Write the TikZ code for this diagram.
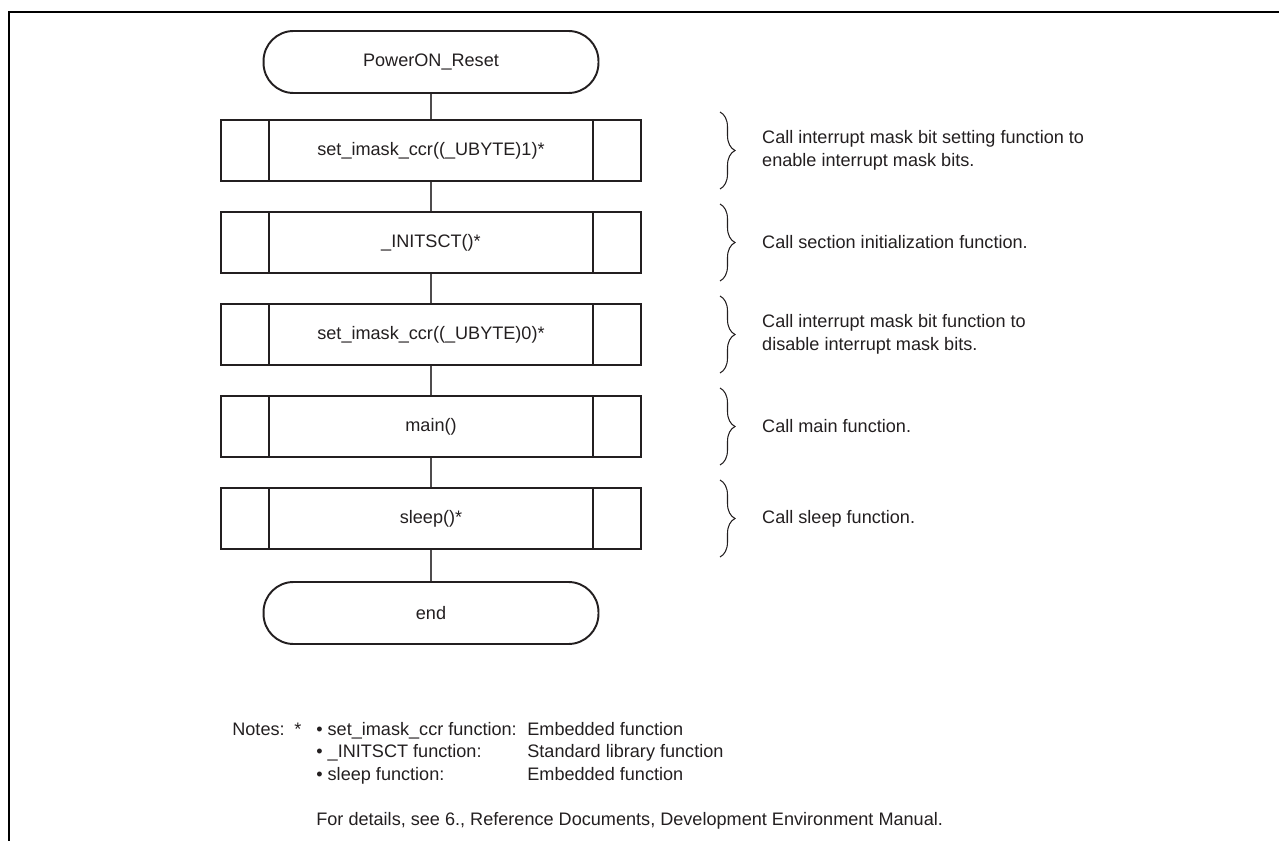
\documentclass[tikz,border=0pt]{standalone}
\usepackage{fontspec}
\setmainfont{Liberation Sans}
\usetikzlibrary{positioning,decorations.pathreplacing}
\definecolor{tinta}{HTML}{231F20}
\begin{document}
\begin{tikzpicture}[
    x=0.02cm,
    y=-0.02cm,
    font=\fontsize{10.3}{13}\selectfont,
    text=tinta,
    terminal/.style={draw=tinta,line width=1.1pt,rounded corners=0.6cm,
        minimum width=6.7cm,minimum height=1.24cm},
    subrutina/.style={draw=tinta,line width=1.1pt,
        minimum width=8.4cm,minimum height=1.22cm},
    enlace/.style={draw=tinta!80,line width=0.6pt},
    llave/.style={draw=tinta,line width=0.6pt,
        decorate,decoration={brace,amplitude=0.3cm}},
    nota/.style={anchor=west,inner sep=0pt,text height=1.5ex,text depth=.3ex},
    marco/.style={line width=1.5pt,black}
]
    \useasboundingbox (0,0) rectangle (1279,841);
    \draw[marco] (9,841) -- (9,12) -- (1279,12);

    % Diagrama de flujo
    \node[terminal] (inicio) at (431,62) {PowerON\_Reset};
    \node[subrutina] (b1) at (431,150.5) {set\_imask\_ccr((\_UBYTE)1)*};
    \node[subrutina] (b2) at (431,242.5) {\_INITSCT()*};
    \node[subrutina] (b3) at (431,334.5) {set\_imask\_ccr((\_UBYTE)0)*};
    \node[subrutina] (b4) at (431,426.5) {main()};
    \node[subrutina] (b5) at (431,518.5) {sleep()*};
    \node[terminal] (fin) at (431,613) {end};
    \foreach \n in {b1,b2,b3,b4,b5}{
        \draw[line width=1.1pt,tinta] ([xshift=0.98cm]\n.north west) -- ([xshift=0.98cm]\n.south west);
        \draw[line width=1.1pt,tinta] ([xshift=-0.98cm]\n.north east) -- ([xshift=-0.98cm]\n.south east);
    }
    \draw[enlace] (inicio) -- (b1);
    \draw[enlace] (b1) -- (b2);
    \draw[enlace] (b2) -- (b3);
    \draw[enlace] (b3) -- (b4);
    \draw[enlace] (b4) -- (b5);
    \draw[enlace] (b5) -- (fin);

    % Llaves y comentarios
    \draw[llave] (720,112) -- (720,189);
    \node[anchor=west,align=left] (c1) at (756,150.5)
        {Call interrupt mask bit setting function to\\enable interrupt mask bits.};
    \draw[llave] (720,204) -- (720,281);
    \node[anchor=west] (c2) at (756,242.5) {Call section initialization function.};
    \draw[llave] (720,296) -- (720,373);
    \node[anchor=west,align=left] (c3) at (756,334.5)
        {Call interrupt mask bit function to\\disable interrupt mask bits.};
    \draw[llave] (720,388) -- (720,465);
    \node[anchor=west] (c4) at (756,426.5) {Call main function.};
    \draw[llave] (720,480) -- (720,557);
    \node[anchor=west] (c5) at (756,518.5) {Call sleep function.};

    % Notas
    \node[nota] (notas) at (232,730) {Notes:};
    \node[nota] (ast) at (294,730) {*};
    \node[nota] (n1) at (316,730) {\textbullet\ set\_imask\_ccr function:};
    \node[nota] (d1) at (527,730) {Embedded function};
    \node[nota] (n2) at (316,752) {\textbullet\ \_INITSCT function:};
    \node[nota] (d2) at (527,752) {Standard library function};
    \node[nota] (n3) at (316,775) {\textbullet\ sleep function:};
    \node[nota] (d3) at (527,775) {Embedded function};
    \node[nota] (det) at (316,820)
        {For details, see 6., Reference Documents, Development Environment Manual.};
\end{tikzpicture}
\end{document}
